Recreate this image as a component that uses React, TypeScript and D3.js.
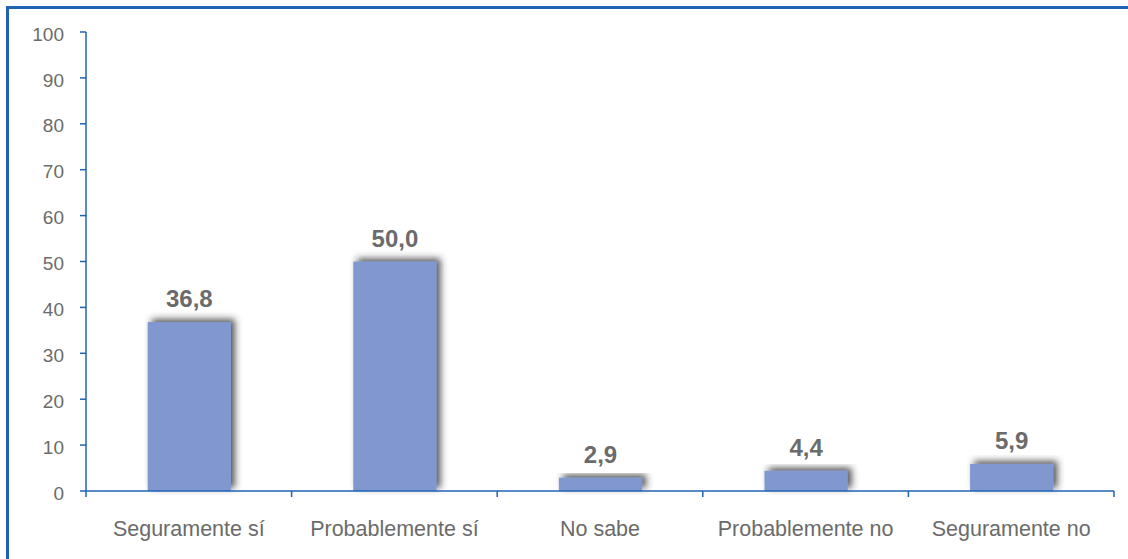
import React from "react";
import * as d3 from "d3";

const categories = [
  "Seguramente sí",
  "Probablemente sí",
  "No sabe",
  "Probablemente no",
  "Seguramente no",
];
const values = [36.8, 50.0, 2.9, 4.4, 5.9];
const yTicks = [0, 10, 20, 30, 40, 50, 60, 70, 80, 90, 100];

const W = 1128;
const H = 559;
const margin = { left: 86, right: 14, top: 32, bottom: 68 };
const axisColor = "#1F63B3";
const textColor = "#6B6B6B";
const barColor = "#8098CF";
const font = "Arial, 'Liberation Sans', sans-serif";

export default function App() {
  const x = d3
    .scaleBand<string>()
    .domain(categories)
    .range([margin.left, W - margin.right])
    .paddingInner(0)
    .paddingOuter(0);
  const y = d3
    .scaleLinear()
    .domain([0, 100])
    .range([H - margin.bottom, margin.top]);
  const bw = x.bandwidth() * 0.405;
  const y0 = y(0);

  const boundaries = [
    margin.left,
    ...categories.map((c) => (x(c) as number) + x.bandwidth()),
  ];

  return (
    <svg
      width={W}
      height={H}
      style={{ position: "absolute", left: 0, top: 0, background: "#fff" }}
    >
      <defs>
        <filter id="barShadow" x="-30%" y="-30%" width="160%" height="160%">
          <feDropShadow
            dx={4}
            dy={-3}
            stdDeviation={3.5}
            floodColor="#2a2a2a"
            floodOpacity={0.8}
          />
        </filter>
      </defs>
      {/* frame */}
      <rect
        x={7.5}
        y={7.5}
        width={W}
        height={H}
        fill="none"
        stroke={axisColor}
        strokeWidth={3}
      />

      {/* bars */}
      {categories.map((c, i) => {
        const cx = (x(c) as number) + x.bandwidth() / 2 + 0.5;
        const top = y(values[i]);
        return (
          <g key={c}>
            <rect
              x={cx - bw / 2}
              y={top}
              width={bw}
              height={y0 - top}
              fill={barColor}
              filter="url(#barShadow)"
            />
            <text
              x={cx}
              y={top - 15}
              textAnchor="middle"
              fontFamily={font}
              fontWeight="bold"
              fontSize={24}
              fill={textColor}
            >
              {values[i].toFixed(1).replace(".", ",")}
            </text>
          </g>
        );
      })}

      {/* y axis */}
      <line
        x1={margin.left}
        x2={margin.left}
        y1={y(100)}
        y2={y0}
        stroke={axisColor}
        strokeWidth={1.5}
      />
      {yTicks.map((t) => (
        <g key={t}>
          <line
            x1={margin.left - 6}
            x2={margin.left}
            y1={y(t)}
            y2={y(t)}
            stroke={axisColor}
            strokeWidth={1.5}
          />
          <text
            x={64}
            y={y(t) + 2}
            dy="0.35em"
            textAnchor="end"
            fontFamily={font}
            fontSize={19}
            fill={textColor}
          >
            {t}
          </text>
        </g>
      ))}

      {/* x axis */}
      <line
        x1={margin.left}
        x2={W - margin.right}
        y1={y0}
        y2={y0}
        stroke={axisColor}
        strokeWidth={1.5}
      />
      {boundaries.map((b, i) => (
        <line
          key={i}
          x1={b}
          x2={b}
          y1={y0}
          y2={y0 + 6}
          stroke={axisColor}
          strokeWidth={1.5}
        />
      ))}
      {categories.map((c) => (
        <text
          key={c}
          x={(x(c) as number) + x.bandwidth() / 2}
          y={536}
          textAnchor="middle"
          fontFamily={font}
          fontSize={21.5}
          fill={textColor}
        >
          {c}
        </text>
      ))}
    </svg>
  );
}
